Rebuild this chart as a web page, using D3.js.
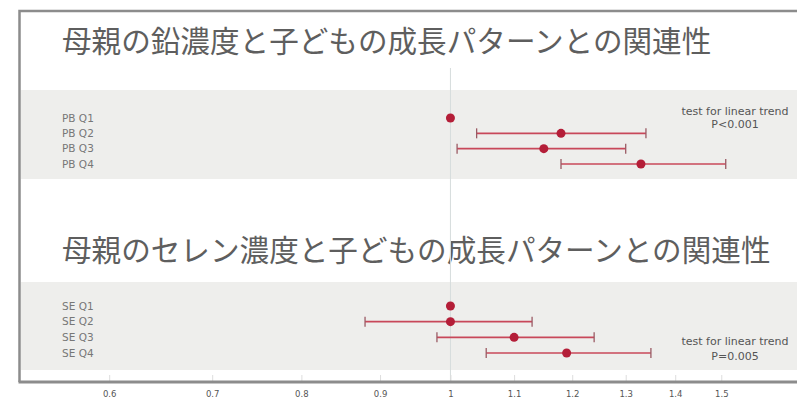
<!DOCTYPE html>
<html>
<head>
<meta charset="utf-8">
<script src="https://cdn.jsdelivr.net/npm/d3@7"></script>
<style>
  body { margin: 0; background: #fff; }
  svg { display: block; font-family: "DejaVu Sans", Verdana, sans-serif; }
</style>
</head>
<body>
<svg id="chart" width="797" height="401"></svg>
<script>
// panel titles
const titles = ["母親の鉛濃度と子どもの成長パターンとの関連性", "母親のセレン濃度と子どもの成長パターンとの関連性"]

// lead (PB) quartiles
const pbLabels = ["PB Q1", "PB Q2", "PB Q3", "PB Q4"]
const pbEst = [1.00, 1.18, 1.15, 1.33]
const pbLow = [null, 1.04, 1.01, 1.18]
const pbHigh = [null, 1.34, 1.30, 1.51]
const pbTrend = ["test for linear trend", "P<0.001"]

// selenium (SE) quartiles
const seLabels = ["SE Q1", "SE Q2", "SE Q3", "SE Q4"]
const seEst = [1.00, 1.00, 1.10, 1.19]
const seLow = [null, 0.88, 0.98, 1.055]
const seHigh = [null, 1.13, 1.24, 1.35]
const seTrend = ["test for linear trend", "P=0.005"]

// x axis ticks
const xTicks = [0.6, 0.7, 0.8, 0.9, 1, 1.1, 1.2, 1.3, 1.4, 1.5]

const svg = d3.select("#chart")
const W = 797

// log scale for odds ratios
const x = d3.scaleLog()
    .domain([0.525, 1.68])
    .range([20, 797])

const axisY = 382

// panel config
const panels = [
    { title: titles[0], titleY: 52, band: [90, 179], rows: [118, 164], labels: pbLabels, est: pbEst, low: pbLow, high: pbHigh, trend: pbTrend, trendY: 115, trendStep: 13 },
    { title: titles[1], titleY: 261, band: [282, 370], rows: [306, 353], labels: seLabels, est: seEst, low: seLow, high: seHigh, trend: seTrend, trendY: 345, trendStep: 15 }
]

panels.forEach(p => {
    // gray band
    svg.append("rect")
        .attr("x", 21).attr("y", p.band[0])
        .attr("width", W - 21).attr("height", p.band[1] - p.band[0])
        .attr("fill", "#eeeeec")

    svg.append("text")
        .attr("x", 62).attr("y", p.titleY)
        .attr("font-family", "'Noto Sans CJK JP', sans-serif")
        .attr("font-size", 29.6)
        .attr("fill", "#5e5e5e")
        .text(p.title)
})

// reference line at 1
svg.append("line")
    .attr("x1", x(1)).attr("x2", x(1))
    .attr("y1", 68).attr("y2", axisY)
    .attr("stroke", "#d6dcdc").attr("stroke-width", 1)

panels.forEach(p => {
    const y = d3.scalePoint()
        .domain(p.labels)
        .range(p.rows)

    const rows = p.labels.map((l, i) => ({ label: l, est: p.est[i], low: p.low[i], high: p.high[i] }))

    const g = svg.append("g")

    g.selectAll(".lab")
        .data(rows)
        .enter().append("text")
        .attr("class", "lab")
        .attr("x", 62)
        .attr("y", d => y(d.label) + 3.5)
        .attr("font-size", 10.5)
        .attr("fill", "#777")
        .text(d => d.label)

    const ci = rows.filter(d => d.low != null)

    g.selectAll(".ci")
        .data(ci)
        .enter().append("line")
        .attr("x1", d => x(d.low)).attr("x2", d => x(d.high))
        .attr("y1", d => y(d.label)).attr("y2", d => y(d.label))
        .attr("stroke", "#c8485a").attr("stroke-width", 1.6)

    ;["low", "high"].forEach(k => {
        g.selectAll(".cap-" + k)
            .data(ci)
            .enter().append("line")
            .attr("x1", d => x(d[k])).attr("x2", d => x(d[k]))
            .attr("y1", d => y(d.label) - 5).attr("y2", d => y(d.label) + 5)
            .attr("stroke", "#9a5a64").attr("stroke-width", 1.3)
    })

    g.selectAll(".pt")
        .data(rows)
        .enter().append("circle")
        .attr("cx", d => x(d.est))
        .attr("cy", d => y(d.label))
        .attr("r", 4.5)
        .attr("fill", "#b41e38")

    g.selectAll(".trend")
        .data(p.trend)
        .enter().append("text")
        .attr("x", 735)
        .attr("y", (d, i) => p.trendY + i * p.trendStep)
        .attr("text-anchor", "middle")
        .attr("font-size", 11)
        .attr("fill", "#555")
        .text(d => d)
})

// frame: top and left border
svg.append("path")
    .attr("d", `M${W + 2},11H19.5V${axisY}`)
    .attr("fill", "none")
    .attr("stroke", "#8c8c8c").attr("stroke-width", 2.5)

// x axis
const xAxis = svg.append("g")
    .attr("transform", `translate(0,${axisY})`)
    .call(d3.axisBottom(x).tickValues(xTicks).tickFormat(d3.format("")).tickSize(0).tickPadding(9))

xAxis.select(".domain").remove()
xAxis.selectAll("text")
    .attr("font-size", 8.5)
    .attr("fill", "#555")
    .attr("font-family", "'DejaVu Sans', Verdana, sans-serif")

xAxis.selectAll(".tick").append("line")
    .attr("y1", -7).attr("y2", 0)
    .attr("stroke", "#ddd")

svg.append("line")
    .attr("x1", 18.5).attr("x2", W)
    .attr("y1", axisY).attr("y2", axisY)
    .attr("stroke", "#8c8c8c").attr("stroke-width", 3)
</script>
</body>
</html>
